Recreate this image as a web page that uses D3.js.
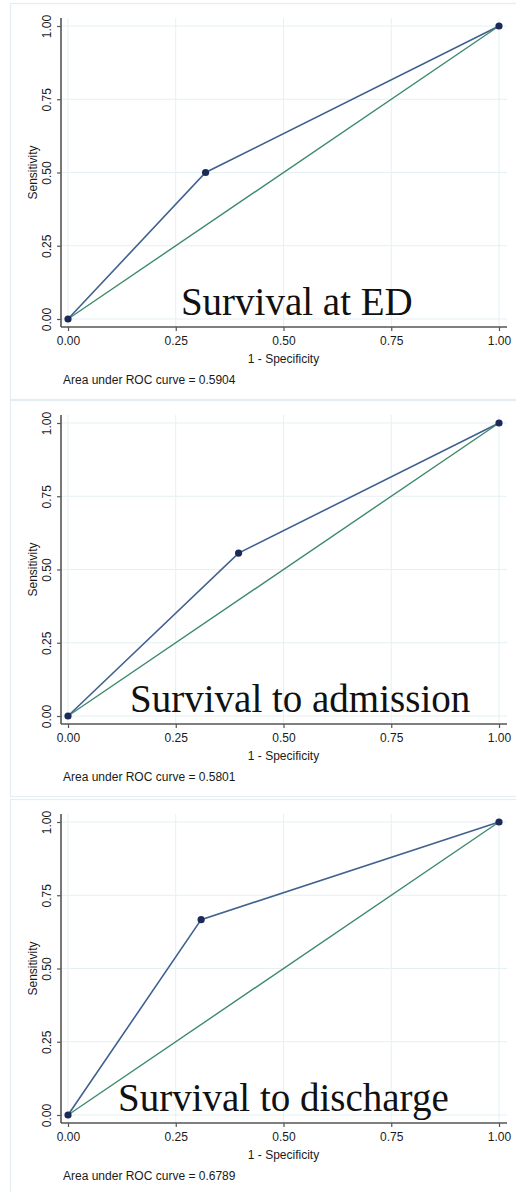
<!DOCTYPE html>
<html>
<head>
<meta charset="utf-8">
<script src="https://cdn.jsdelivr.net/npm/d3@7"></script>
<style>
  body { margin: 0; background: #fff; }
  svg { display: block; }
  .tick text { font-family: "Liberation Sans", Arial, sans-serif; font-size: 12px; fill: #1a1a1a; }
</style>
</head>
<body>
<div id="chart"></div>
<script>
// one ROC panel per outcome: (1 - specificity, sensitivity) at the single cut point
var outcomes = ["Survival at ED", "Survival to admission", "Survival to discharge"];
var cutFpr = [0.3192, 0.3958, 0.3089];
var cutSens = [0.5000, 0.5560, 0.6667];
var aucValues = ["0.5904", "0.5801", "0.6789"];
var labelStart = [0.262, 0.144, 0.116]; // where the big caption starts, in x units
var tickValues = [0, 0.25, 0.5, 0.75, 1];

var width = 516, height = 1192;
var panelTop = [3, 400, 799];
var panelH = 396;

var svg = d3.select("#chart").append("svg")
  .attr("width", width)
  .attr("height", height);

var x = d3.scaleLinear().domain([0, 1]).range([68, 499]);
var y = d3.scaleLinear().domain([0, 1]).range([316, 23]);
var fmt = d3.format(".2f");

var axisY = 324, axisX = 61, plotRight = 507, plotTop = 15;

outcomes.forEach(function (name, i) {
  var g = svg.append("g").attr("transform", "translate(0," + panelTop[i] + ")");

  // graph region border
  g.append("rect")
    .attr("x", 10.5).attr("y", 0.5)
    .attr("width", 520).attr("height", panelH)
    .attr("fill", "#fff")
    .attr("stroke", "#e2eef2")
    .attr("stroke-width", 1.2);

  // grid
  g.selectAll(".hgrid").data(tickValues).enter().append("line")
    .attr("x1", axisX).attr("x2", plotRight)
    .attr("y1", function (d) { return y(d); })
    .attr("y2", function (d) { return y(d); })
    .attr("stroke", "#e5f0f2").attr("stroke-width", 1);
  g.selectAll(".vgrid").data(tickValues).enter().append("line")
    .attr("y1", plotTop).attr("y2", axisY)
    .attr("x1", function (d) { return x(d); })
    .attr("x2", function (d) { return x(d); })
    .attr("stroke", "#e5f0f2").attr("stroke-width", 1);

  // caption sits behind the curves
  g.append("text")
    .attr("x", x(labelStart[i]))
    .attr("y", 312)
    .style("font-family", "'Liberation Serif', 'Times New Roman', serif")
    .style("font-size", "39px")
    .attr("fill", "#111")
    .text(name);

  // axes
  var ya = g.append("g")
    .attr("transform", "translate(" + axisX + ",0)")
    .call(d3.axisLeft(y).tickValues(tickValues).tickFormat(fmt).tickSize(4));
  ya.select(".domain").remove();
  ya.selectAll(".tick line").attr("stroke", "#555").attr("stroke-width", 1.2);
  ya.selectAll(".tick text")
    .attr("x", 0).attr("y", 0).attr("dy", 0)
    .attr("text-anchor", "middle")
    .attr("transform", "translate(-10,0) rotate(-90)");

  var xa = g.append("g")
    .attr("transform", "translate(0," + axisY + ")")
    .call(d3.axisBottom(x).tickValues(tickValues).tickFormat(fmt).tickSize(4));
  xa.select(".domain").remove();
  xa.selectAll(".tick line").attr("stroke", "#555").attr("stroke-width", 1.2);
  xa.selectAll(".tick text").attr("y", 9.5);

  g.append("line")
    .attr("x1", axisX).attr("x2", axisX)
    .attr("y1", plotTop).attr("y2", axisY)
    .attr("stroke", "#555").attr("stroke-width", 1.6);
  g.append("line")
    .attr("x1", axisX).attr("x2", plotRight)
    .attr("y1", axisY).attr("y2", axisY)
    .attr("stroke", "#555").attr("stroke-width", 1.6);

  g.append("text")
    .attr("transform", "translate(37," + y(0.5) + ") rotate(-90)")
    .attr("text-anchor", "middle")
    .style("font-family", "'Liberation Sans', Arial, sans-serif")
    .style("font-size", "12px")
    .attr("fill", "#1a1a1a")
    .text("Sensitivity");

  g.append("text")
    .attr("x", x(0.5)).attr("y", 360)
    .attr("text-anchor", "middle")
    .style("font-family", "'Liberation Sans', Arial, sans-serif")
    .style("font-size", "12px")
    .attr("fill", "#1a1a1a")
    .text("1 - Specificity");

  g.append("text")
    .attr("x", 63).attr("y", 381)
    .style("font-family", "'Liberation Sans', Arial, sans-serif")
    .style("font-size", "12px")
    .attr("fill", "#1a1a1a")
    .text("Area under ROC curve = " + aucValues[i]);

  // curves
  var roc = [{ fx: 0, se: 0 }, { fx: cutFpr[i], se: cutSens[i] }, { fx: 1, se: 1 }];
  var line = d3.line()
    .x(function (d) { return x(d.fx); })
    .y(function (d) { return y(d.se); });

  g.append("path")
    .datum(roc)
    .attr("d", line)
    .attr("fill", "none")
    .attr("stroke", "#41618f")
    .attr("stroke-width", 1.6);

  g.append("path")
    .datum([{ fx: 0, se: 0 }, { fx: 1, se: 1 }])
    .attr("d", line)
    .attr("fill", "none")
    .attr("stroke", "#3e8a6c")
    .attr("stroke-width", 1.4);

  g.selectAll(".dot")
    .data(roc)
    .enter().append("circle")
    .attr("cx", function (d) { return x(d.fx); })
    .attr("cy", function (d) { return y(d.se); })
    .attr("r", 3.6)
    .attr("fill", "#1b2a57");
});
</script>
</body>
</html>
